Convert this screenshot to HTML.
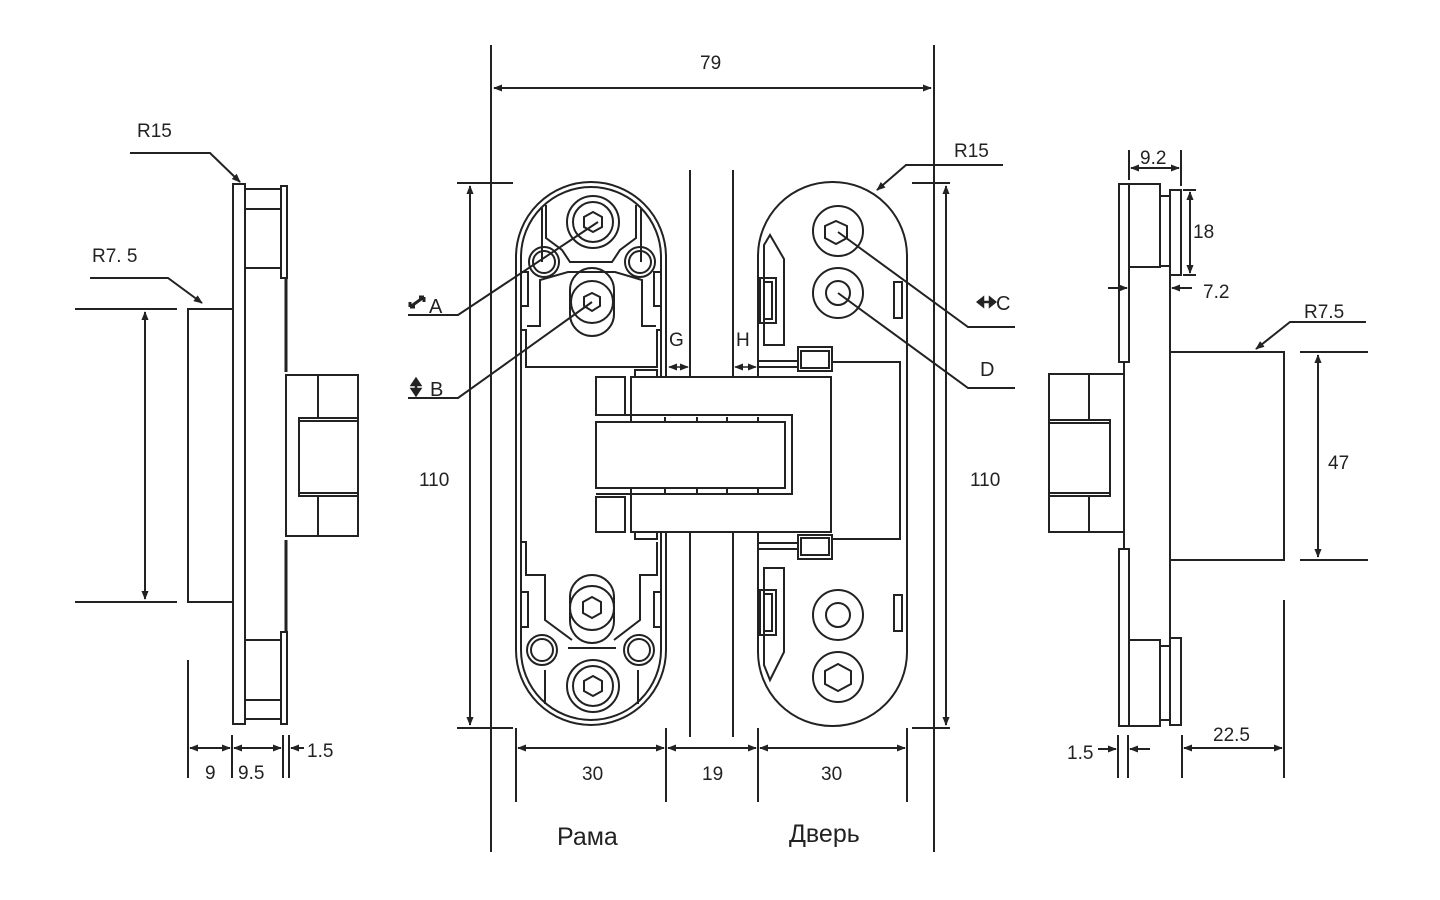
<!DOCTYPE html>
<html><head><meta charset="utf-8"><style>
html,body{margin:0;padding:0;background:#fff;}
svg{display:block}
text{font-family:"Liberation Sans",sans-serif;fill:#222;}
</style></head><body>
<svg width="1440" height="900" viewBox="0 0 1440 900" xmlns="http://www.w3.org/2000/svg">
<defs>
<marker id="ar" viewBox="0 0 10 10" refX="9" refY="5" markerWidth="9" markerHeight="9" orient="auto-start-reverse" markerUnits="userSpaceOnUse"><path d="M0,1 L10,5 L0,9 Z" fill="#222"/></marker>
</defs>
<g fill="none" stroke="#222" stroke-width="2">

<!-- ===== LEFT SIDE VIEW ===== -->
<polyline points="130,153 210,153 240,182" marker-end="url(#ar)"/>
<text x="137" y="137" font-size="19" stroke="none">R15</text>
<polyline points="90,278 168,278 202,303" marker-end="url(#ar)"/>
<text x="92" y="262" font-size="19" stroke="none">R7. 5</text>
<rect x="233" y="184" width="12" height="540"/>
<rect x="245" y="189" width="36" height="79"/>
<line x1="245" y1="209" x2="281" y2="209"/>
<rect x="245" y="640" width="36" height="79"/>
<line x1="245" y1="700" x2="281" y2="700"/>
<rect x="281" y="186" width="6" height="92"/>
<rect x="281" y="632" width="6" height="92"/>
<line x1="286" y1="278" x2="286" y2="372" stroke-width="3"/>
<line x1="286" y1="540" x2="286" y2="632" stroke-width="3"/>
<rect x="286" y="375" width="72" height="161"/>
<line x1="318" y1="375" x2="318" y2="418"/>
<line x1="318" y1="496" x2="318" y2="536"/>
<rect x="299" y="418" width="59" height="78"/>
<line x1="299" y1="421" x2="358" y2="421"/>
<line x1="299" y1="493" x2="358" y2="493"/>
<rect x="188" y="309" width="45" height="293"/>
<line x1="75" y1="309" x2="177" y2="309"/>
<line x1="75" y1="602" x2="177" y2="602"/>
<line x1="145" y1="312" x2="145" y2="599" marker-start="url(#ar)" marker-end="url(#ar)"/>
<line x1="188" y1="660" x2="188" y2="778"/>
<line x1="232" y1="735" x2="232" y2="778"/>
<line x1="283" y1="735" x2="283" y2="778"/>
<line x1="289" y1="735" x2="289" y2="778"/>
<line x1="190" y1="748" x2="230" y2="748" marker-start="url(#ar)" marker-end="url(#ar)"/>
<line x1="234" y1="748" x2="281" y2="748" marker-start="url(#ar)" marker-end="url(#ar)"/>
<line x1="304" y1="748" x2="291" y2="748" marker-end="url(#ar)"/>
<text x="205" y="779" font-size="19" stroke="none">9</text>
<text x="238" y="779" font-size="19" stroke="none">9.5</text>
<text x="307" y="757" font-size="19" stroke="none">1.5</text>

<!-- ===== CENTER ===== -->
<line x1="491" y1="45" x2="491" y2="852"/>
<line x1="934" y1="45" x2="934" y2="852"/>
<line x1="494" y1="88" x2="931" y2="88" marker-start="url(#ar)" marker-end="url(#ar)"/>
<text x="700" y="69" font-size="19" stroke="none">79</text>
<line x1="457" y1="183" x2="513" y2="183"/>
<line x1="457" y1="728" x2="513" y2="728"/>
<line x1="470" y1="186" x2="470" y2="725" marker-start="url(#ar)" marker-end="url(#ar)"/>
<text x="419" y="486" font-size="19" stroke="none">110</text>
<line x1="912" y1="183" x2="950" y2="183"/>
<line x1="912" y1="728" x2="950" y2="728"/>
<line x1="946" y1="186" x2="946" y2="725" marker-start="url(#ar)" marker-end="url(#ar)"/>
<text x="970" y="486" font-size="19" stroke="none">110</text>
<line x1="690" y1="170" x2="690" y2="737"/>
<line x1="733" y1="170" x2="733" y2="737"/>
<line x1="516" y1="728" x2="516" y2="802"/>
<line x1="666" y1="728" x2="666" y2="802"/>
<line x1="758" y1="728" x2="758" y2="802"/>
<line x1="907" y1="728" x2="907" y2="802"/>
<line x1="518" y1="748" x2="664" y2="748" marker-start="url(#ar)" marker-end="url(#ar)"/>
<line x1="668" y1="748" x2="756" y2="748" marker-start="url(#ar)" marker-end="url(#ar)"/>
<line x1="760" y1="748" x2="905" y2="748" marker-start="url(#ar)" marker-end="url(#ar)"/>
<text x="582" y="780" font-size="19" stroke="none">30</text>
<text x="702" y="780" font-size="19" stroke="none">19</text>
<text x="821" y="780" font-size="19" stroke="none">30</text>
<text x="557" y="845" font-size="25" stroke="none">Рама</text>
<text x="789" y="842" font-size="25" stroke="none">Дверь</text>

<!-- left plate -->
<rect x="516" y="182" width="150" height="543" rx="75"/>
<rect x="521" y="187" width="140" height="533" rx="70"/>
<path d="M542,208 L542,262 M641,208 L641,262"/>
<path d="M546,205 L546,238 L562,250 L570,262 L612,262 L620,250 L636,238 L636,205"/>
<path d="M521,330 L526,330 L526,367 L657,367 L657,330 L661,330"/>
<path d="M527,326 L540,326 L540,280 L568,272 L615,272 L642,280 L642,326 L656,326"/>
<rect x="521" y="272" width="7" height="34"/>
<rect x="654" y="272" width="7" height="34"/>
<circle cx="593" cy="222" r="26"/><circle cx="593" cy="222" r="20"/>
<polygon points="593,212 602,217 602,227 593,232 584,227 584,217"/>
<path d="M570,290 A22,22 0 0 1 614,290 L614,314 A22,22 0 0 1 570,314 Z"/>
<circle cx="592" cy="302" r="21"/>
<polygon points="592,293 600,297 600,306 592,311 584,306 584,297"/>
<circle cx="544" cy="262" r="15"/><circle cx="544" cy="262" r="11"/>
<circle cx="640" cy="262" r="15"/><circle cx="640" cy="262" r="11"/>
<path d="M521,542 L526,542 L526,575 L545,575 L545,620 L572,640 M657,542 L657,575 L640,575 L640,620 L614,640"/>
<rect x="521" y="592" width="7" height="35"/>
<rect x="654" y="592" width="7" height="35"/>
<path d="M570,597 A22,22 0 0 1 614,597 L614,621 A22,22 0 0 1 570,621 Z"/>
<circle cx="592" cy="608" r="22"/>
<polygon points="592,597 601,602 601,613 592,618 583,613 583,602"/>
<path d="M568,648 L616,648 M545,670 L545,704 M638,670 L638,704"/>
<circle cx="593" cy="686" r="26"/><circle cx="593" cy="686" r="20"/>
<polygon points="593,676 602,681 602,691 593,696 584,691 584,681"/>
<circle cx="542" cy="650" r="15"/><circle cx="542" cy="650" r="11"/>
<circle cx="639" cy="650" r="15"/><circle cx="639" cy="650" r="11"/>
<rect x="635" y="370" width="22" height="7"/>
<rect x="635" y="532" width="22" height="7"/>

<!-- right plate -->
<rect x="758" y="182" width="149" height="544" rx="74"/>
<path d="M758,361 L798,361 M758,367 L798,367 M832,362 L900,362 L900,539 L832,539 M758,543 L798,543 M758,549 L798,549"/>
<rect x="798" y="347" width="34" height="24"/><rect x="801" y="351" width="28" height="17"/>
<rect x="798" y="535" width="34" height="24"/><rect x="801" y="538" width="28" height="17"/>
<path d="M764,345 L764,245 L770,235 L784,259 L784,345 Z"/>
<rect x="760" y="278" width="16" height="45"/><rect x="764" y="282" width="8" height="37"/>
<path d="M764,568 L784,568 L784,652 L770,680 L764,665 Z"/>
<rect x="760" y="590" width="16" height="45"/><rect x="764" y="594" width="8" height="37"/>
<rect x="894" y="282" width="8" height="36"/>
<rect x="894" y="595" width="8" height="36"/>
<circle cx="838" cy="231" r="25"/>
<polygon points="836,221 847,226 847,238 836,244 825,238 825,226"/>
<circle cx="838" cy="293" r="25"/><circle cx="838" cy="293" r="12"/>
<circle cx="838" cy="615" r="25"/><circle cx="838" cy="615" r="12"/>
<circle cx="838" cy="677" r="25"/>
<polygon points="838,664 851,671 851,684 838,691 825,684 825,671"/>

<!-- central block -->
<rect x="631" y="377" width="200" height="155" fill="#fff"/>
<rect x="596" y="377" width="29" height="38" fill="#fff"/>
<rect x="596" y="497" width="29" height="35" fill="#fff"/>
<path d="M596,415 L792,415 L792,494 L596,494"/>
<rect x="596" y="422" width="189" height="66" fill="#fff"/>
<line x1="665" y1="417" x2="665" y2="421"/>
<line x1="697" y1="417" x2="697" y2="421"/>
<line x1="727" y1="417" x2="727" y2="421"/>
<line x1="758" y1="417" x2="758" y2="421"/>
<line x1="665" y1="489" x2="665" y2="493"/>
<line x1="697" y1="489" x2="697" y2="493"/>
<line x1="727" y1="489" x2="727" y2="493"/>
<line x1="758" y1="489" x2="758" y2="493"/>
<line x1="669" y1="367" x2="688" y2="367" stroke-width="1.5" marker-start="url(#ar)" marker-end="url(#ar)"/>
<line x1="735" y1="367" x2="756" y2="367" stroke-width="1.5" marker-start="url(#ar)" marker-end="url(#ar)"/>
<text x="669" y="346" font-size="19" stroke="none">G</text>
<text x="736" y="346" font-size="19" stroke="none">H</text>

<!-- leaders -->
<polyline points="408,315 458,315 598,222"/>
<polyline points="408,398 458,398 592,302"/>
<polyline points="1015,327 968,327 838,232"/>
<polyline points="1015,388 968,388 838,293"/>
<polyline points="1003,165 906,165 877,190" marker-end="url(#ar)"/>
<text x="954" y="157" font-size="19" stroke="none">R15</text>
<text x="429" y="313" font-size="20" stroke="none">A</text>
<text x="430" y="396" font-size="20" stroke="none">B</text>
<text x="996" y="310" font-size="20" stroke="none">C</text>
<text x="980" y="376" font-size="20" stroke="none">D</text>
<path d="M410,307 L424,297 M410,307 l0,-5 M410,307 l5,0 M424,297 l-5,0 M424,297 l0,5" stroke-width="3"/>
<path d="M416,381 L416,393 M412,385 L416,379 L420,385 Z M412,389 L416,395 L420,389 Z" stroke-width="2.5" fill="#222"/>
<path d="M980,302 L993,302 M983,298 L978,302 L983,306 Z M990,298 L995,302 L990,306 Z" stroke-width="2.5" fill="#222"/>

<!-- ===== RIGHT SIDE VIEW ===== -->
<rect x="1119" y="184" width="10" height="178"/>
<rect x="1119" y="549" width="10" height="177"/>
<line x1="1124" y1="362" x2="1124" y2="549"/>
<rect x="1129" y="184" width="31" height="83"/>
<rect x="1160" y="196" width="10" height="70"/>
<rect x="1170" y="190" width="11" height="85"/>
<line x1="1170" y1="275" x2="1170" y2="640"/>
<rect x="1129" y="640" width="31" height="86"/>
<rect x="1160" y="646" width="10" height="74"/>
<rect x="1170" y="638" width="11" height="87"/>
<rect x="1170" y="352" width="114" height="208"/>
<rect x="1049" y="374" width="75" height="158"/>
<line x1="1089" y1="374" x2="1089" y2="420"/>
<line x1="1089" y1="496" x2="1089" y2="532"/>
<rect x="1049" y="420" width="61" height="76"/>
<line x1="1049" y1="423" x2="1110" y2="423"/>
<line x1="1049" y1="493" x2="1110" y2="493"/>
<line x1="1129" y1="150" x2="1129" y2="180"/>
<line x1="1181" y1="150" x2="1181" y2="186"/>
<line x1="1131" y1="168" x2="1179" y2="168" marker-start="url(#ar)" marker-end="url(#ar)"/>
<text x="1140" y="164" font-size="19" stroke="none">9.2</text>
<line x1="1190" y1="192" x2="1190" y2="273" marker-start="url(#ar)" marker-end="url(#ar)"/>
<line x1="1183" y1="190" x2="1196" y2="190"/>
<line x1="1183" y1="275" x2="1196" y2="275"/>
<text x="1193" y="238" font-size="19" stroke="none">18</text>
<line x1="1108" y1="288" x2="1127" y2="288" marker-end="url(#ar)"/>
<line x1="1192" y1="288" x2="1172" y2="288" marker-end="url(#ar)"/>
<text x="1203" y="298" font-size="19" stroke="none">7.2</text>
<polyline points="1366,322 1290,322 1256,349" marker-end="url(#ar)"/>
<text x="1304" y="318" font-size="19" stroke="none">R7.5</text>
<line x1="1300" y1="352" x2="1368" y2="352"/>
<line x1="1300" y1="560" x2="1368" y2="560"/>
<line x1="1318" y1="355" x2="1318" y2="557" marker-start="url(#ar)" marker-end="url(#ar)"/>
<text x="1328" y="469" font-size="19" stroke="none">47</text>
<line x1="1284" y1="600" x2="1284" y2="778"/>
<line x1="1182" y1="735" x2="1182" y2="778"/>
<line x1="1184" y1="748" x2="1282" y2="748" marker-start="url(#ar)" marker-end="url(#ar)"/>
<text x="1213" y="741" font-size="19" stroke="none">22.5</text>
<line x1="1118" y1="735" x2="1118" y2="778"/>
<line x1="1128" y1="735" x2="1128" y2="778"/>
<line x1="1098" y1="749" x2="1116" y2="749" marker-end="url(#ar)"/>
<line x1="1150" y1="749" x2="1130" y2="749" marker-end="url(#ar)"/>
<text x="1067" y="759" font-size="19" stroke="none">1.5</text>
</g>
</svg>
</body></html>
